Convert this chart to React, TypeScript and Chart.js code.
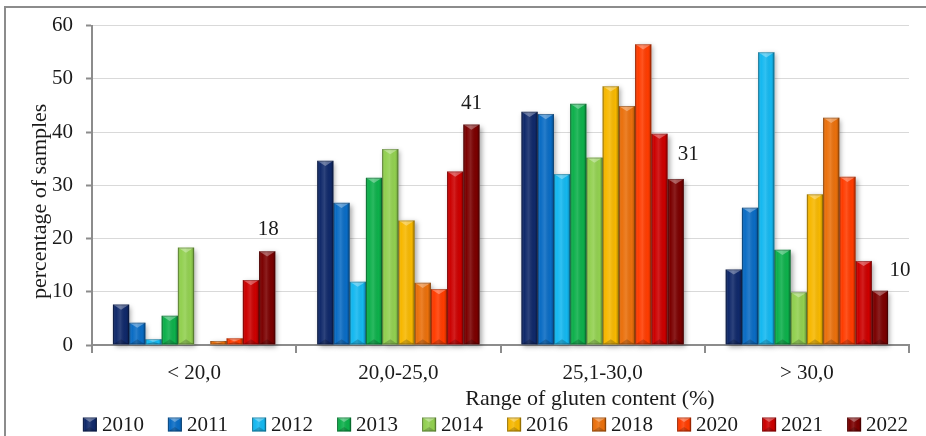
import React, { useEffect, useRef } from 'react';
import { Chart, registerables } from 'chart.js';

Chart.register(...registerables);

const categories = ['< 20,0', '20,0-25,0', '25,1-30,0', '> 30,0'];
const years = ['2010', '2011', '2012', '2013', '2014', '2016', '2018', '2020', '2021', '2022'];
const s2010 = [7.6, 34.6, 43.8, 14.2];
const s2011 = [4.2, 26.7, 43.4, 25.8];
const s2012 = [1.1, 11.9, 32.1, 55.0];
const s2013 = [5.5, 31.4, 45.3, 17.9];
const s2014 = [18.3, 36.8, 35.2, 9.9];
const s2016 = [null, 23.4, 48.6, 28.3];
const s2018 = [0.75, 11.7, 44.9, 42.7];
const s2020 = [1.25, 10.5, 56.5, 31.6];
const s2021 = [12.2, 32.6, 39.7, 15.8];
const s2022 = [17.6, 41.4, 31.2, 10.2];
const seriesValues = [s2010, s2011, s2012, s2013, s2014, s2016, s2018, s2020, s2021, s2022];
const seriesColors = ['#10296a', '#0a6cc4', '#14b8f0', '#0db04b', '#92d050', '#f7b800', '#ea700c', '#ff3c00', '#cc0000', '#7b0000'];
const yMin = 0;
const yMax = 60;
const yStep = 10;
const yTitle = 'percentage of samples';
const xTitle = 'Range of gluten content (%)';
const labelledSeries = 9;

const FONT = "'Liberation Serif', 'Times New Roman', serif";
const TEXT = '#1a1a1a';
const AXIS = '#8c8c8c';

function drawBevel(ctx: CanvasRenderingContext2D, L: number, T: number, w: number, h: number) {
  if (h <= 0) return;
  const R = L + w, B = T + h, cx = L + w / 2;
  const g = ctx.createLinearGradient(L, 0, R, 0);
  g.addColorStop(0, 'rgba(0,0,0,0.22)');
  g.addColorStop(0.18, 'rgba(255,255,255,0)');
  g.addColorStop(0.45, 'rgba(255,255,255,0.12)');
  g.addColorStop(0.8, 'rgba(0,0,0,0)');
  g.addColorStop(1, 'rgba(0,0,0,0.28)');
  ctx.fillStyle = g;
  ctx.fillRect(L, T, w, h);
  const b = Math.min(w * 0.32, h / 2);
  ctx.fillStyle = 'rgba(255,255,255,0.32)';
  ctx.beginPath();
  ctx.moveTo(L, T);
  ctx.lineTo(R, T);
  ctx.lineTo(cx, T + b);
  ctx.closePath();
  ctx.fill();
  ctx.fillStyle = 'rgba(0,0,0,0.18)';
  ctx.beginPath();
  ctx.moveTo(L, B);
  ctx.lineTo(R, B);
  ctx.lineTo(cx, B - b);
  ctx.closePath();
  ctx.fill();
  ctx.strokeStyle = 'rgba(0,0,0,0.25)';
  ctx.lineWidth = 1;
  ctx.strokeRect(L + 0.5, T + 0.5, Math.max(w - 1, 0), Math.max(h - 1, 0));
}

const decorPlugin = {
  id: 'decor',
  beforeDraw(chart: any) {
    const ctx = chart.ctx;
    ctx.save();
    ctx.fillStyle = '#ffffff';
    ctx.fillRect(0, 0, chart.width, chart.height);
    ctx.strokeStyle = AXIS;
    ctx.lineWidth = 2;
    ctx.beginPath();
    ctx.moveTo(5, chart.height);
    ctx.lineTo(5, 7);
    ctx.lineTo(chart.width, 7);
    ctx.stroke();
    ctx.restore();
  },
  beforeDatasetsDraw(chart: any) {
    const ctx = chart.ctx;
    ctx.save();
    ctx.shadowColor = 'rgba(0,0,0,0.35)';
    ctx.shadowBlur = 5;
    ctx.shadowOffsetX = 2;
    ctx.shadowOffsetY = 2;
    ctx.fillStyle = '#ffffff';
    chart.data.datasets.forEach((ds: any, i: number) => {
      const meta = chart.getDatasetMeta(i);
      meta.data.forEach((el: any, j: number) => {
        if (ds.data[j] == null) return;
        const { x, y, base, width } = el.getProps(['x', 'y', 'base', 'width'], true);
        ctx.fillRect(x - width / 2, y, width, base - y);
      });
    });
    ctx.restore();
  },
  afterDatasetsDraw(chart: any) {
    const ctx = chart.ctx;
    ctx.save();
    chart.data.datasets.forEach((ds: any, i: number) => {
      const meta = chart.getDatasetMeta(i);
      meta.data.forEach((el: any, j: number) => {
        if (ds.data[j] == null) return;
        const { x, y, base, width } = el.getProps(['x', 'y', 'base', 'width'], true);
        drawBevel(ctx, x - width / 2, y, width, base - y);
      });
    });
    // data labels on last series
    const labelOffsets = [[1, -22], [0, -21], [12.5, -24], [20, -20]];
    const meta = chart.getDatasetMeta(labelledSeries);
    const ds = chart.data.datasets[labelledSeries];
    ctx.font = `21px ${FONT}`;
    ctx.fillStyle = TEXT;
    ctx.textAlign = 'center';
    ctx.textBaseline = 'middle';
    meta.data.forEach((el: any, j: number) => {
      const v = ds.data[j];
      if (v == null) return;
      const { x, y } = el.getProps(['x', 'y'], true);
      const off = labelOffsets[j] || [0, -20];
      ctx.fillText(String(Math.round(v)), x + off[0], y + off[1]);
    });
    ctx.restore();
  },
  afterDraw(chart: any) {
    const ctx = chart.ctx;
    const ca = chart.chartArea;
    ctx.save();
    // axis titles
    ctx.fillStyle = TEXT;
    ctx.font = `22px ${FONT}`;
    ctx.textAlign = 'center';
    ctx.textBaseline = 'alphabetic';
    ctx.fillText(xTitle, 590, ca.bottom + 60);
    ctx.save();
    ctx.translate(40, (ca.top + ca.bottom) / 2 + 16);
    ctx.rotate(-Math.PI / 2);
    ctx.textBaseline = 'middle';
    ctx.fillText(yTitle, 0, 0);
    ctx.restore();
    // legend
    ctx.font = `21px ${FONT}`;
    const box = 14, gapText = 5, gapItem = 24;
    const widths = years.map((y) => ctx.measureText(y).width);
    const total = widths.reduce((a, w) => a + box + gapText + w, 0) + gapItem * (years.length - 1);
    let x = (ca.left + ca.right) / 2 - total / 2 - 5;
    const cy = chart.height - 11.5;
    ctx.textAlign = 'left';
    ctx.textBaseline = 'middle';
    years.forEach((yr, i) => {
      ctx.fillStyle = seriesColors[i];
      ctx.fillRect(x, cy - box / 2, box, box);
      drawBevel(ctx, x, cy - box / 2, box, box);
      ctx.fillStyle = TEXT;
      ctx.fillText(yr, x + box + gapText, cy + 1);
      x += box + gapText + widths[i] + gapItem;
    });
    ctx.restore();
  },
};

export default function App() {
  const ref = useRef<HTMLCanvasElement | null>(null);
  useEffect(() => {
    if (!ref.current) return;
    const chart = new Chart(ref.current, {
      type: 'bar',
      data: {
        labels: categories,
        datasets: years.map((yr, i) => ({
          label: yr,
          data: seriesValues[i] as any,
          backgroundColor: seriesColors[i],
          borderWidth: 0,
          categoryPercentage: 0.795,
          barPercentage: 1,
        })),
      },
      options: {
        responsive: false,
        animation: false,
        devicePixelRatio: 1,
        layout: { padding: { top: 23, right: 17, left: 0, bottom: 41 } },
        font: { family: FONT, size: 21 },
        plugins: {
          legend: { display: false },
          tooltip: { enabled: false },
          title: { display: false },
        },
        scales: {
          x: {
            grid: {
              offset: true,
              drawOnChartArea: false,
              drawTicks: true,
              tickLength: 8,
              color: AXIS,
              lineWidth: 2,
            },
            border: { color: AXIS, width: 2 },
            ticks: { padding: 8, color: TEXT, font: { family: FONT, size: 21 }, maxRotation: 0 },
            afterFit: (s: any) => { s.height = 50; },
          },
          y: {
            min: yMin,
            max: yMax,
            ticks: { stepSize: yStep, padding: 13, color: TEXT, font: { family: FONT, size: 21 } },
            grid: { color: '#d9d9d9', lineWidth: 1, tickColor: AXIS, tickLength: 6, tickWidth: 2 },
            border: { color: AXIS, width: 2 },
            afterFit: (s: any) => { s.width = 92; },
          },
        },
      } as any,
      plugins: [decorPlugin],
    });
    return () => chart.destroy();
  }, []);
  return (
    <div style={{ position: 'absolute', left: 0, top: 0, width: 926, height: 436 }}>
      <canvas ref={ref} width={926} height={436} style={{ display: 'block' }} />
    </div>
  );
}
